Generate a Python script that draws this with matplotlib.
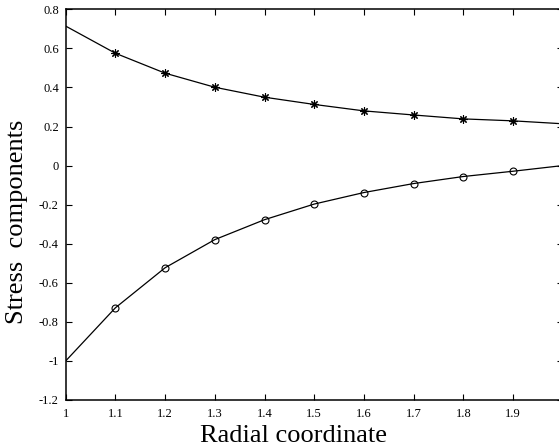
import matplotlib
matplotlib.use("Agg")
import matplotlib.pyplot as plt

plt.rcParams['font.family'] = ['Liberation Serif', 'DejaVu Serif']
plt.rcParams['axes.unicode_minus'] = False

r = [1.0, 1.1, 1.2, 1.3, 1.4, 1.5, 1.6, 1.7, 1.8, 1.9, 2.0]
sigma_theta = [0.714, 0.575, 0.473, 0.401, 0.350, 0.313, 0.280, 0.259, 0.239, 0.229, 0.214]
sigma_r = [-1.0, -0.728, -0.523, -0.379, -0.277, -0.197, -0.138, -0.092, -0.056, -0.029, 0.0]

xticks = [1.0, 1.1, 1.2, 1.3, 1.4, 1.5, 1.6, 1.7, 1.8, 1.9, 2.0]
xticklabels = ["1", "1.1", "1.2", "1.3", "1.4", "1.5", "1.6", "1.7", "1.8", "1.9", "2"]
yticks = [0.8, 0.6, 0.4, 0.2, 0.0, -0.2, -0.4, -0.6, -0.8, -1.0, -1.2]
yticklabels = ["0.8", "0.6", "0.4", "0.2", "0", "-0.2", "-0.4", "-0.6", "-0.8", "-1", "-1.2"]

W, H = 559, 447
fig = plt.figure(figsize=(W / 100, H / 100), dpi=100)
left, right, top, bottom = 65.7, 562.7, 9.3, 400.0
ax = fig.add_axes([left / W, 1 - bottom / H, (right - left) / W, (bottom - top) / H])

ax.plot(r, sigma_theta, color='black', lw=0.9, marker=(8, 2, 0), markersize=6,
        markevery=list(range(1, 10)), markeredgewidth=0.8)
ax.plot(r, sigma_r, color='black', lw=0.9, marker='o', markersize=5,
        markerfacecolor='none', markevery=list(range(1, 10)), markeredgewidth=0.8)

ax.set_xlim(1.0, 2.0)
ax.set_ylim(-1.2, 0.8)
ax.set_xticks(xticks)
ax.set_xticklabels(xticklabels)
ax.set_yticks(yticks)
ax.set_yticklabels(yticklabels)
ax.tick_params(direction='in', length=4, width=0.8, top=True, right=True,
               labelsize=9)
ax.tick_params(axis='x', pad=6)
ax.tick_params(axis='y', pad=5)
for s in ax.spines.values():
    s.set_linewidth(1.1)

fig.text(294 / W, 1 - 441.5 / H, "Radial coordinate", ha='center', va='baseline', fontsize=19)
fig.text(17 / W, 1 - 222 / H, "Stress  components", ha='center', va='center',
         rotation=90, fontsize=19)

fig.savefig("out.png", dpi=100)
